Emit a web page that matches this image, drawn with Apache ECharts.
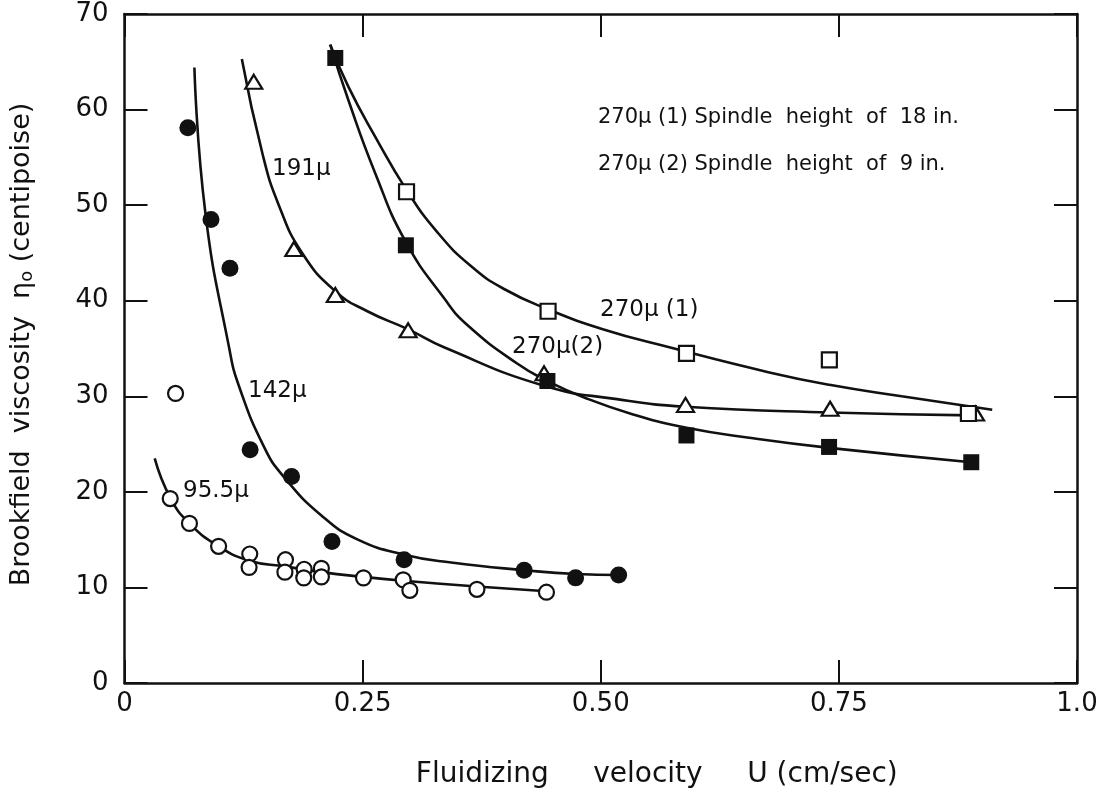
<!DOCTYPE html>
<html>
<head>
<meta charset="utf-8">
<script src="https://cdn.jsdelivr.net/npm/echarts@6/dist/echarts.min.js"></script>
<style>
html,body{margin:0;padding:0;background:#fff;}
#chart{width:1104px;height:794px;}
</style>
</head>
<body>
<div id="chart"></div>
<script>
// ---- tick labels ----
var xTickValues = [0, 0.25, 0.5, 0.75, 1.0];
var xTickLabels = ['0', '0.25', '0.50', '0.75', '1.0'];

// ---- measured points ----
var pts142 = [[0.0665,58.1],[0.0908,48.5],[0.1107,43.4],[0.1319,24.4],[0.1754,21.6],[0.2178,14.8],[0.2935,12.9],[0.4196,11.8],[0.4736,11.0],[0.5188,11.3]];
var pts95 = [[0.0536,30.3],[0.048,19.3],[0.0682,16.7],[0.0988,14.3],[0.1315,13.5],[0.1308,12.1],[0.169,12.9],[0.1684,11.6],[0.1886,11.9],[0.1882,11.0],[0.2067,12.0],[0.2067,11.1],[0.2509,11.0],[0.2926,10.8],[0.2996,9.7],[0.370,9.8],[0.443,9.5]];
var pts191 = [[0.1357,62.9],[0.1778,45.4],[0.2213,40.6],[0.2978,36.9],[0.4405,32.4],[0.589,29.1],[0.7408,28.7],[0.8935,28.2]];
var pts270a = [[0.2961,51.4],[0.4447,38.9],[0.590,34.5],[0.740,33.8],[0.886,28.2]];
var pts270b = [[0.2213,65.4],[0.2954,45.8],[0.444,31.6],[0.590,25.9],[0.7397,24.7],[0.889,23.1]];

// ---- fitted curves ----
var curve142 = [[0.0734,64.4],[0.0849,49.2],[0.11,35.0],[0.1204,31.0],[0.147,24.6],[0.167,21.6],[0.207,17.5],[0.245,15.0],[0.295,13.4],[0.343,12.6],[0.42,11.8],[0.474,11.4],[0.519,11.3]];
var curve95 = [[0.0317,23.5],[0.048,19.4],[0.0682,16.7],[0.0988,14.3],[0.131,12.8],[0.169,12.2],[0.207,11.6],[0.251,11.1],[0.293,10.7],[0.37,10.1],[0.443,9.6]];
var curve191 = [[0.1232,65.3],[0.1448,55.4],[0.162,50.0],[0.1865,45.0],[0.2213,41.0],[0.255,38.9],[0.298,37.0],[0.336,35.1],[0.4405,31.1],[0.517,29.7],[0.589,28.9],[0.7408,28.3],[0.89,28.0]];
var curve270a = [[0.216,66.8],[0.235,62.4],[0.263,57.2],[0.296,51.6],[0.329,47.1],[0.364,43.6],[0.399,41.2],[0.4447,39.1],[0.503,37.0],[0.573,35.1],[0.677,32.5],[0.74,31.2],[0.816,30.0],[0.911,28.6]];
var curve270b = [[0.216,66.8],[0.235,61.0],[0.263,53.4],[0.295,46.2],[0.336,40.2],[0.3605,37.4],[0.4126,33.4],[0.444,31.6],[0.482,29.9],[0.534,28.1],[0.59,26.7],[0.66,25.6],[0.74,24.6],[0.889,23.1]];

var FONT = 'DejaVu Sans';
var INK = '#111';

var chart = echarts.init(document.getElementById('chart'), null, {renderer:'canvas'});

function axisCommon() {
  return {
    axisLine: {show: true, onZero: false, lineStyle: {color: INK, width: 2.5}},
    axisTick: {show: true, inside: true, length: 23, lineStyle: {color: INK, width: 2}},
    splitLine: {show: false}
  };
}

var xBottom = Object.assign(axisCommon(), {
  type: 'value', position: 'bottom', min: 0, max: 1, interval: 0.25,
  axisLabel: {show: true, margin: 8, color: INK, fontFamily: FONT, fontSize: 26,
    formatter: function (v) { var i = xTickValues.findIndex(function(t){return Math.abs(t-v)<1e-9;}); return i >= 0 ? xTickLabels[i] : ''; }},
  name: 'Fluidizing     velocity     U (cm/sec)', nameLocation: 'middle', nameGap: 78,
  nameTextStyle: {color: INK, fontFamily: FONT, fontSize: 28, padding: [0,0,0,112]}
});
var xTop = Object.assign(axisCommon(), {
  type: 'value', position: 'top', min: 0, max: 1, interval: 0.25, axisLabel: {show: false}
});
var yLeft = Object.assign(axisCommon(), {
  type: 'value', position: 'left', min: 0, max: 70, interval: 10,
  axisLabel: {show: true, margin: 16, color: INK, fontFamily: FONT, fontSize: 26},
  name: '{n|Brookfield  viscosity  η}{s|o}{n| (centipoise)}', nameLocation: 'middle', nameGap: 88,
  nameTextStyle: {color: INK, fontFamily: FONT, fontSize: 27, padding: [0,0,0,8],
    rich: {n: {fontFamily: FONT, fontSize: 27, color: INK}, s: {fontFamily: FONT, fontSize: 18, color: INK, padding: [12,0,0,0]}}}
});
var yRight = Object.assign(axisCommon(), {
  type: 'value', position: 'right', min: 0, max: 70, interval: 10, axisLabel: {show: false}
});

function curveSeries(data) {
  return {type: 'line', data: data, smooth: 0.5, showSymbol: false, symbol: 'none',
    lineStyle: {color: INK, width: 2.6}, z: 2, silent: true, animation: false};
}
function scatterSeries(data, symbol, size, filled) {
  return {type: 'scatter', data: data, symbol: symbol, symbolSize: size,
    itemStyle: {color: filled ? INK : '#fff', borderColor: INK, borderWidth: filled ? 0 : 2.2, opacity: 1},
    z: 3, animation: false};
}

function txt(x, y, s, size) {
  return {type: 'text', left: x, top: y, style: {text: s, fill: INK, font: (size||22) + 'px "' + FONT + '"'}, z: 10};
}

chart.setOption({
  backgroundColor: '#fff',
  animation: false,
  grid: {left: 118, right: 27, top: 14, bottom: 110, containLabel: false},
  xAxis: [xBottom, xTop],
  yAxis: [yLeft, yRight],
  series: [
    curveSeries(curve142), curveSeries(curve95), curveSeries(curve191),
    curveSeries(curve270a), curveSeries(curve270b),
    scatterSeries(pts142, 'circle', 17, true),
    scatterSeries(pts95, 'circle', 15, false),
    scatterSeries(pts191, 'triangle', [17, 14], false),
    scatterSeries(pts270a, 'rect', 15, false),
    scatterSeries(pts270b, 'rect', 16, true)
  ],
  graphic: [
    txt(598, 107, '270μ (1) Spindle  height  of  18 in.', 21),
    txt(598, 154, '270μ (2) Spindle  height  of  9 in.', 21),
    txt(272, 158, '191μ', 23),
    txt(248, 380, '142μ', 23),
    txt(183, 480, '95.5μ', 23),
    txt(600, 299, '270μ (1)', 23),
    txt(512, 336, '270μ(2)', 23)
  ]
});
</script>
</body>
</html>
